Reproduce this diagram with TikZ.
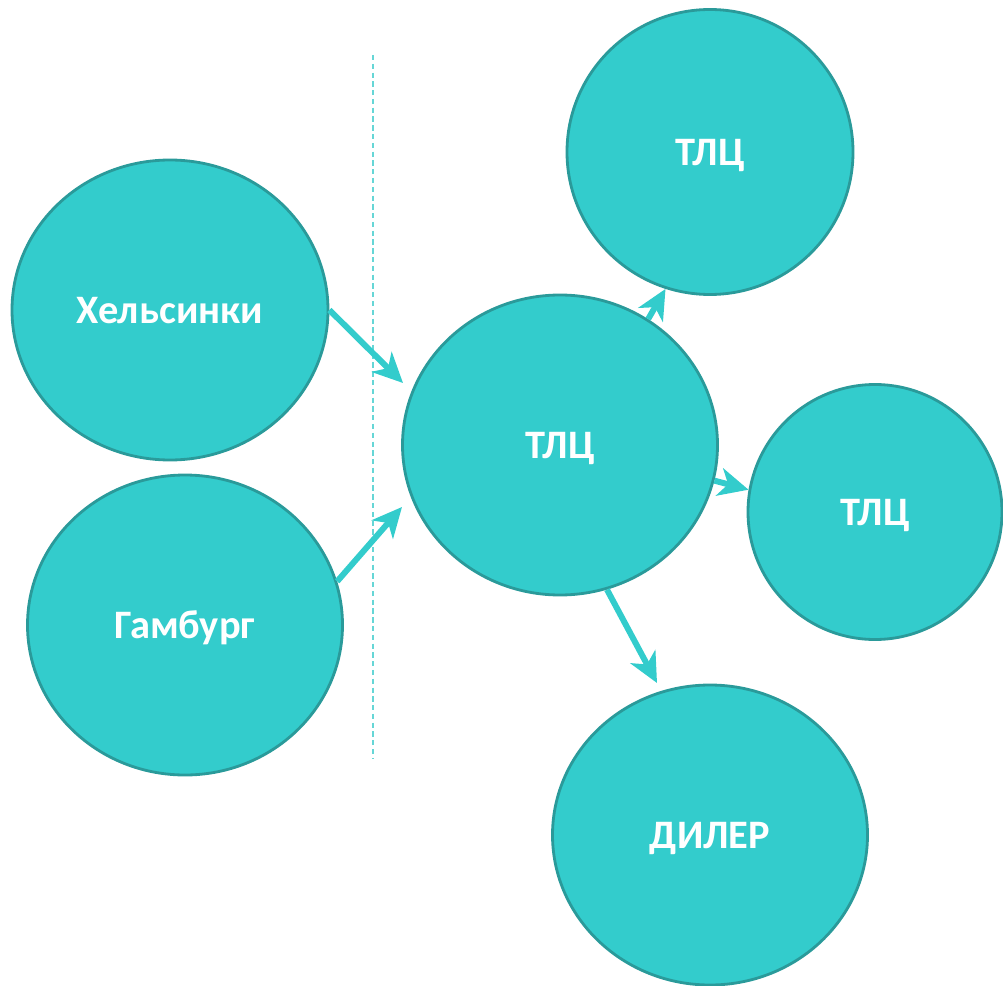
\documentclass[tikz,border=0pt]{standalone}
\usepackage{fontspec}
\setmainfont{Carlito}
\usetikzlibrary{arrows.meta}
\usetikzlibrary{shapes.geometric}

\definecolor{tealfill}{HTML}{33CCCC}
\definecolor{tealedge}{HTML}{2A9A9A}
\definecolor{teallight}{HTML}{66D6D6}

\tikzset{
 hub/.style={ellipse, draw=tealedge, fill=tealfill, line width=1.6pt, inner sep=0,
   text=white, text height=15pt, text depth=0pt, font=\fontsize{23}{27}\selectfont\bfseries},
 flow/.style={tealfill, line width=3.4pt, -{Stealth[length=17pt, width=16pt, inset=5pt]}},
}

\begin{document}
\begin{tikzpicture} [x=0.02cm, y=-0.02cm]
\useasboundingbox (0,0) rectangle (1003,986);
\draw[teallight, line width=0.8pt, dash pattern=on 3pt off 2pt] (373,55)--(373,759);
\node[hub, minimum width=316*0.02cm, minimum height=300*0.02cm] (hel) at (170,310) {Хельсинки};
\node[hub, minimum width=315*0.02cm, minimum height=300*0.02cm] (ham) at (185,625) {Гамбург};
\node[hub, minimum width=315*0.02cm, minimum height=300*0.02cm] (tlc) at (560,445) {ТЛЦ};
\node[hub, minimum width=286*0.02cm, minimum height=285*0.02cm] (top) at (710,152) {ТЛЦ};
\node[hub, minimum width=254*0.02cm, minimum height=255*0.02cm] (right) at (875,512) {ТЛЦ};
\node[hub, minimum width=315*0.02cm, minimum height=300*0.02cm] (dil) at (710,835) {ДИЛЕР};
\coordinate (helend) at (403,383);
\coordinate (hamend) at (402,507);
\coordinate (dilend) at (657,683);
\draw[flow] (hel.east) -- (helend);
\draw[flow] (ham.16) -- (hamend);
\draw[flow] (tlc.55) -- (top.252);
\draw[flow] (tlc.-13) -- (right.170);
\draw[flow] (tlc.-72) -- (dilend);
\end{tikzpicture}
\end{document}
